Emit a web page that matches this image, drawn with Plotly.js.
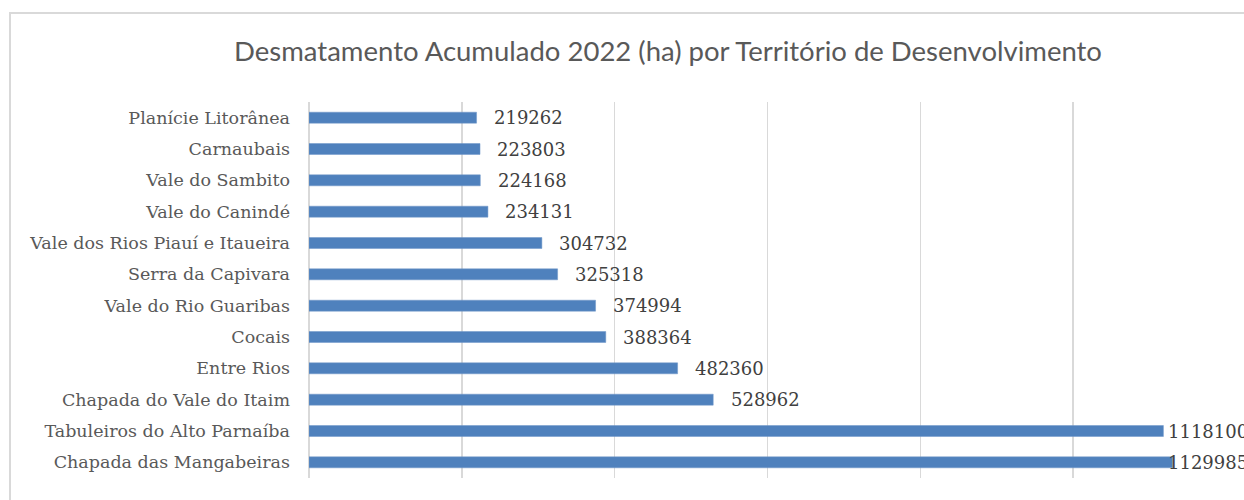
<!DOCTYPE html>
<html><head><meta charset="utf-8">
<script src="https://cdn.plot.ly/plotly-3.0.1.min.js"></script>
<style>
html,body{margin:0;padding:0;background:#fff;overflow:hidden;width:1244px;height:500px;}
#frame{position:absolute;left:9px;top:12px;width:1260px;height:520px;border:2px solid #d9d9d9;box-sizing:border-box;}
#chart{position:absolute;left:0;top:0;width:1244px;height:500px;}
</style></head>
<body>
<div id="frame"></div>
<div id="chart"></div>
<script>
const categories = ["Chapada das Mangabeiras","Tabuleiros do Alto Parnaíba","Chapada do Vale do Itaim","Entre Rios","Cocais","Vale do Rio Guaribas","Serra da Capivara","Vale dos Rios Piauí e Itaueira","Vale do Canindé","Vale do Sambito","Carnaubais","Planície Litorânea"];
const values = [1129985,1118100,528962,482360,388364,374994,325318,304732,234131,224168,223803,219262];
const xMax = 1200000;
const labelOffset = 20000;
const labelLimit = 1121000;

const trace = {
  type:'bar', orientation:'h', y:categories, x:values,
  marker:{color:'#4f81bd', line:{color:'#6f97c9', width:0.5}},
  hoverinfo:'none'
};
const annotations = values.map((v,i)=>({
  x: Math.min(v+labelOffset, labelLimit), y: categories[i], xref:'x', yref:'y',
  text:String(v), showarrow:false, xanchor:'left', yanchor:'middle',
  font:{family:'DejaVu Serif', size:18, color:'#404040'}
}));
const layout = {
  width:1244, height:500,
  margin:{l:309, r:18, t:102, b:22},
  paper_bgcolor:'rgba(0,0,0,0)', plot_bgcolor:'rgba(0,0,0,0)',
  title:{text:'Desmatamento Acumulado 2022 (ha) por Território de Desenvolvimento',
    font:{family:'Lato', size:27.5, color:'#595959'}, x:0.537, xanchor:'center', y:0.898, yref:'container', yanchor:'middle'},
  bargap:0.65,
  showlegend:false,
  xaxis:{range:[0,xMax], dtick:200000, showgrid:true, gridcolor:'#d9d9d9', gridwidth:1.5,
    showticklabels:false, zeroline:true, zerolinecolor:'#d9d9d9', zerolinewidth:1.5, fixedrange:true},
  yaxis:{showgrid:false, ticks:'', ticklabelstandoff:18, automargin:false,
    tickfont:{family:'DejaVu Serif', size:17.5, color:'#595959'}, fixedrange:true},
  annotations: annotations
};
Plotly.newPlot('chart',[trace],layout,{displayModeBar:false, staticPlot:true});
</script>
</body></html>
